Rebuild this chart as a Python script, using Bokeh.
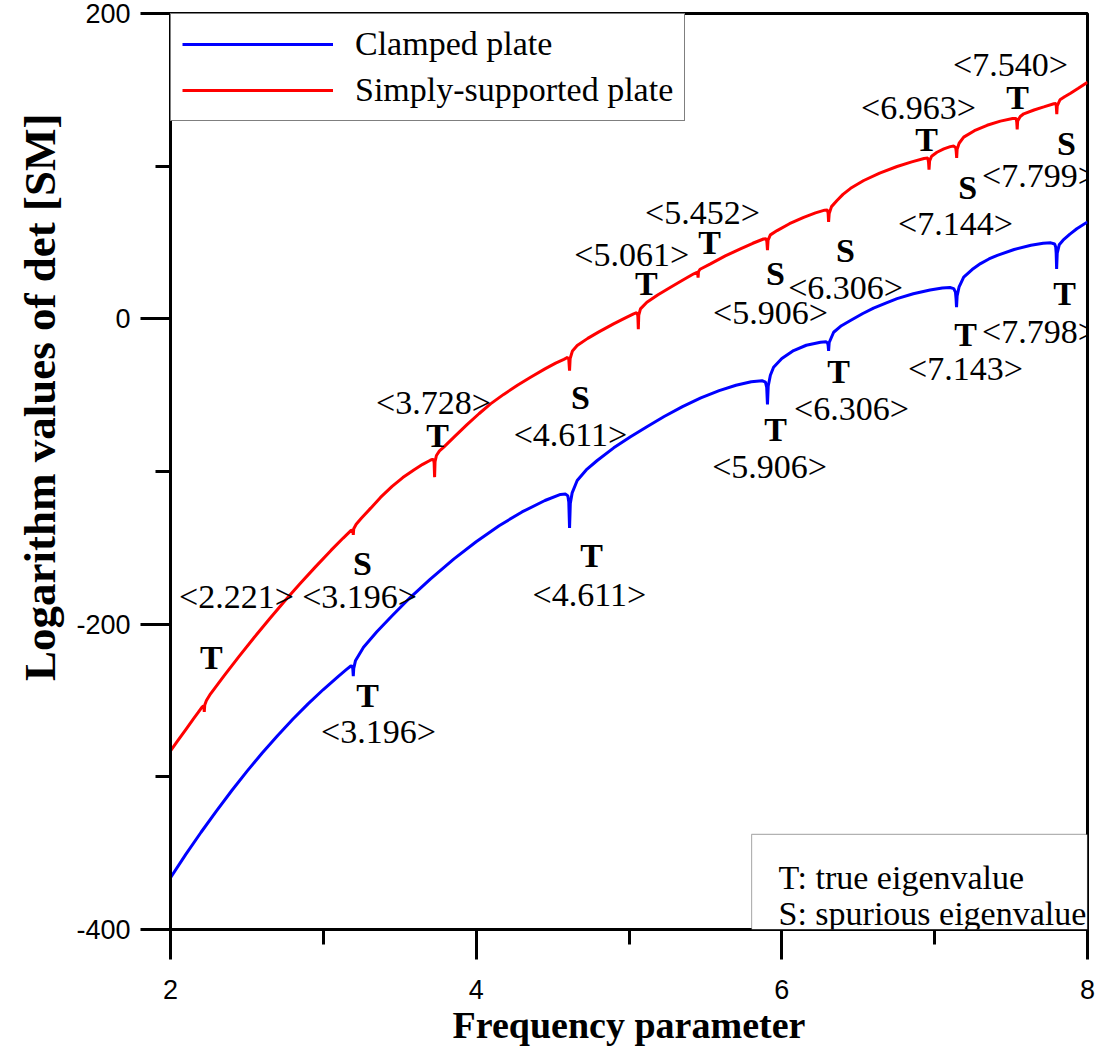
from bokeh.plotting import figure
from bokeh.models import (Range1d, SingleIntervalTicker, Legend, LegendItem, Title,
                          ColumnDataSource, LabelSet, Label, BoxAnnotation)
from bokeh.core.properties import value
from bokeh.embed import file_html
from bokeh.resources import INLINE

# ---------------- data ----------------
clamped_x = [2.00, 2.10, 2.20, 2.30, 2.40, 2.50, 2.60, 2.70, 2.80, 2.90, 3.00, 3.10, 3.15, 3.18,
             3.190, 3.193, 3.196, 3.199, 3.21, 3.263, 3.35, 3.45, 3.57, 3.70, 3.855, 4.00, 4.15,
             4.30, 4.45, 4.552, 4.585, 4.600, 4.606, 4.611, 4.616, 4.628, 4.661, 4.72, 4.792,
             4.90, 5.01, 5.12, 5.23, 5.35, 5.47, 5.59, 5.70, 5.80, 5.87, 5.893, 5.901, 5.906,
             5.911, 5.925, 5.946, 6.00, 6.077, 6.16, 6.253, 6.29, 6.300, 6.303, 6.306, 6.310,
             6.339, 6.39, 6.449, 6.53, 6.60, 6.68, 6.754, 6.86, 6.97, 7.05, 7.10, 7.125, 7.136,
             7.140, 7.143, 7.147, 7.16, 7.19, 7.245, 7.30, 7.355, 7.41, 7.52, 7.63, 7.71, 7.76,
             7.785, 7.792, 7.795, 7.798, 7.802, 7.815, 7.84, 7.885, 7.93, 8.00]
clamped_y = [-366, -350.8, -336.3, -322.4, -309.1, -296.4, -284.4, -273.1, -262.3, -252.2, -242.8,
             -234, -229.8, -227.4, -227.5, -229.5, -234, -229, -224, -215.1, -205, -194.5, -182.4,
             -170.5, -157.2, -146, -135.5, -126.5, -119, -115, -114.8, -116, -120, -137, -121,
             -114, -105.9, -99, -92.8, -84.5, -77.3, -70.5, -64, -57.5, -51.8, -47, -43.5, -41.2,
             -40.5, -41.5, -45, -56, -44, -37, -31.7, -26, -20.8, -17.3, -15.3, -15, -16, -17.5,
             -21, -15.5, -8.8, -4.5, -1.1, 3.5, 7, 10.3, 13.2, 16.4, 18.9, 20.2, 20.5, 19.8, 17.5,
             13, 7.7, 15, 21, 27.3, 32.3, 36.2, 39.2, 41.6, 45.4, 48.2, 49.5, 49.8,
             49, 47, 43, 32.6, 43, 48.5, 51.5, 55.5, 59, 63.5]

ss_x = [2.00, 2.05, 2.10, 2.15, 2.18, 2.205, 2.216, 2.219, 2.221, 2.224, 2.235, 2.262, 2.35, 2.45,
        2.55, 2.65, 2.75, 2.85, 2.95, 3.05, 3.13, 3.18, 3.190, 3.194, 3.196, 3.199, 3.215, 3.25,
        3.31, 3.374, 3.45, 3.52, 3.592, 3.65, 3.70, 3.714, 3.722, 3.725, 3.728, 3.731, 3.74, 3.76,
        3.788, 3.86, 3.94, 4.02, 4.094, 4.18, 4.27, 4.356, 4.45, 4.52, 4.574, 4.598, 4.606, 4.611,
        4.615, 4.63, 4.661, 4.73, 4.80, 4.899, 4.97, 5.03, 5.050, 5.056, 5.058, 5.061, 5.064,
        5.075, 5.117, 5.19, 5.272, 5.35, 5.424, 5.445, 5.449, 5.452, 5.455, 5.465, 5.533, 5.63,
        5.729, 5.81, 5.88, 5.897, 5.902, 5.906, 5.910, 5.925, 5.969, 6.05, 6.143, 6.22, 6.28,
        6.298, 6.303, 6.306, 6.310, 6.325, 6.361, 6.40, 6.45, 6.536, 6.64, 6.754, 6.85, 6.93,
        6.955, 6.960, 6.963, 6.967, 6.98, 7.015, 7.06, 7.102, 7.125, 7.138, 7.141, 7.144, 7.147,
        7.16, 7.19, 7.26, 7.343, 7.43, 7.51, 7.533, 7.537, 7.540, 7.543, 7.56, 7.583, 7.65,
        7.714, 7.78, 7.793, 7.796, 7.799, 7.802, 7.82, 7.85, 7.889, 7.94, 8.00]
ss_y = [-283, -276, -269, -262, -258, -254.5, -253.5, -254.5, -257.5, -253, -250, -245.6, -233.9,
        -220.9, -208.4, -196.3, -184.5, -173.2, -162.3, -151.7, -143.6, -138.7, -138.5, -139.2,
        -141.5, -137.5, -134.5, -130.5, -124, -117, -109.8, -104, -99, -95.3, -92.6, -92, -92.5,
        -94.5, -103.7, -93.5, -89.5, -86.5, -84, -77, -69.3, -62, -55.7, -49.5, -43.5, -38.3,
        -32.8, -29, -26.5, -25.3, -26.5, -33.9, -26, -21, -17.5, -12.8, -8.7, -3.3, 0.3, 3.2,
        4, 3, 1.5, -6.8, 2.5, 6.5, 10.9, 15.8, 20.7, 25.3, 29.5, 30.5, 30, 27, 31, 32.5, 36,
        41.2, 45.8, 49.5, 52.3, 52.5, 50.5, 45, 51.5, 55, 57.8, 62.3, 66.5, 69.4, 71.2, 71.3,
        69, 63.5, 69, 73.5, 77.5, 81.5, 85.5, 90.6, 95.5, 99.8, 102.8, 105, 105.3, 102.5, 97.7,
        103.5, 106.5, 109.1, 111.3, 112.8, 113.2, 112, 109.5, 105.4, 111, 115, 119, 123.2,
        126.8, 129.5, 131.2, 131.3, 129, 124, 129.5, 132.5, 134.3, 136.8, 138.8, 140.9, 141,
        139, 134, 139.5, 143.5, 145.5, 147.8, 151, 155]

series_names = ["Clamped plate", "Simply-supported plate"]
series_colors = ["#0000ff", "#ff0000"]

# eigenvalue annotations: kind (T/S) and value
mark_kind = ["T", "S", "T", "T", "S", "T", "T", "T", "S", "S", "T", "T",
             "T", "S", "T", "S", "T", "T"]
mark_value = [2.221, 3.196, 3.196, 3.728, 4.611, 4.611, 5.061, 5.452, 5.906, 6.306, 6.306, 5.906,
              6.963, 7.144, 7.540, 7.799, 7.143, 7.798]
# where the letter and the number are placed (data units)
kind_pos_x = [2.268, 3.256, 3.289, 3.747, 4.683, 4.755, 5.114, 5.527, 5.959, 6.417, 6.371, 5.959,
              6.947, 7.216, 7.542, 7.863, 7.202, 7.850]
kind_pos_y = [-221.9, -160.3, -246.7, -76.4, -51.5, -155.0, 23.1, 50.0, 29.7, 44.7, -34.5, -72.5,
              117.5, 86.0, 145.0, 114.8, -10.3, 16.6]
num_pos_x = [2.432, 3.237, 3.361, 3.721, 4.617, 4.741, 5.018, 5.481, 5.926, 6.417, 6.456, 5.920,
             6.894, 7.136, 7.496, 7.686, 7.202, 7.686]
num_pos_y = [-181.9, -181.9, -270.3, -54.8, -75.8, -180.6, 42.1, 69.6, 4.1, 20.5, -58.8, -96.7,
             138.3, 62.4, 166.6, 93.8, -32.5, -8.3]

note_lines = ["T: true eigenvalue", "S: spurious eigenvalue"]
x_title = "Frequency parameter"
y_title = "Logarithm values of det [SM]"

# ---------------- figure ----------------
p = figure(width=1096, height=1048, x_range=Range1d(2, 8), y_range=Range1d(-400, 200),
           output_backend="svg", toolbar_location=None,
           min_border_left=170, min_border_right=9, min_border_top=13, min_border_bottom=119)
p.background_fill_color = "white"
p.border_fill_color = "white"
p.outline_line_color = "black"
p.outline_line_width = 3
p.xgrid.visible = False
p.ygrid.visible = False

r_blue = p.line(clamped_x, clamped_y, line_color=series_colors[0], line_width=3)
r_red = p.line(ss_x, ss_y, line_color=series_colors[1], line_width=3)

p.xaxis.ticker = SingleIntervalTicker(interval=2, num_minor_ticks=2)
p.yaxis.ticker = SingleIntervalTicker(interval=200, num_minor_ticks=2)
p.yaxis.major_label_overrides = {-400: "-400", -200: "-200", 0: "0", 200: "200"}
for ax in (p.xaxis[0], p.yaxis[0]):
    ax.axis_line_width = 3
    ax.axis_line_color = "black"
    ax.major_tick_line_width = 3
    ax.minor_tick_line_width = 3
    ax.major_tick_line_color = "black"
    ax.minor_tick_line_color = "black"
    ax.major_tick_out = 30
    ax.major_tick_in = 0
    ax.minor_tick_out = 15
    ax.minor_tick_in = 0
    ax.major_label_text_font = "Liberation Sans"
    ax.major_label_text_font_size = "27px"
    ax.major_label_text_color = "black"
p.yaxis[0].major_label_standoff = 10
p.xaxis[0].major_label_standoff = 20

p.xaxis[0].axis_label = x_title
p.xaxis[0].axis_label_text_font = "Liberation Serif"
p.xaxis[0].axis_label_text_font_style = "bold"
p.xaxis[0].axis_label_text_font_size = "38px"
p.xaxis[0].axis_label_text_color = "black"
p.xaxis[0].axis_label_standoff = 2

p.add_layout(Title(text=y_title, align="right", offset=100, standoff=18,
                   text_font="Liberation Serif", text_font_style="bold",
                   text_font_size="45px", text_color="black"), "left")

legend = Legend(items=[LegendItem(label=series_names[0], renderers=[r_blue]),
                       LegendItem(label=series_names[1], renderers=[r_red])],
                location="top_left", margin=0, padding=11, spacing=8,
                glyph_width=151, glyph_height=38, label_height=38, label_standoff=22,
                label_text_font="Liberation Serif", label_text_font_size="34px",
                label_text_color="black",
                border_line_color="black", border_line_width=1.5,
                background_fill_color="white", background_fill_alpha=1)
p.add_layout(legend)

# T / S letters and eigenvalue numbers
kind_src = ColumnDataSource(dict(x=kind_pos_x, y=kind_pos_y, text=mark_kind))
num_src = ColumnDataSource(dict(x=num_pos_x, y=num_pos_y,
                                text=["<%.3f>" % v for v in mark_value]))
p.add_layout(LabelSet(x="x", y="y", text="text", source=kind_src,
                      text_font=value("Liberation Serif"), text_font_style="bold",
                      text_font_size="34px", text_align="center", text_baseline="middle",
                      text_color="black"))
p.add_layout(LabelSet(x="x", y="y", text="text", source=num_src,
                      text_font=value("Liberation Serif"),
                      text_font_size="34px", text_align="center", text_baseline="middle",
                      text_color="black"))

# note box bottom-right
p.add_layout(BoxAnnotation(left=5.802, right=8, bottom=-400, top=-337.7,
                           fill_color="white", fill_alpha=1,
                           line_color="black", line_width=1.2))
p.add_layout(Label(x=5.978, y=-366.0, text=note_lines[0], text_font="Liberation Serif",
                   text_font_size="34px", text_align="left", text_baseline="alphabetic",
                   text_color="black"))
p.add_layout(Label(x=5.978, y=-389.5, text=note_lines[1], text_font="Liberation Serif",
                   text_font_size="34px", text_align="left", text_baseline="alphabetic",
                   text_color="black"))

open("out.html", "w").write(file_html(p, INLINE))
